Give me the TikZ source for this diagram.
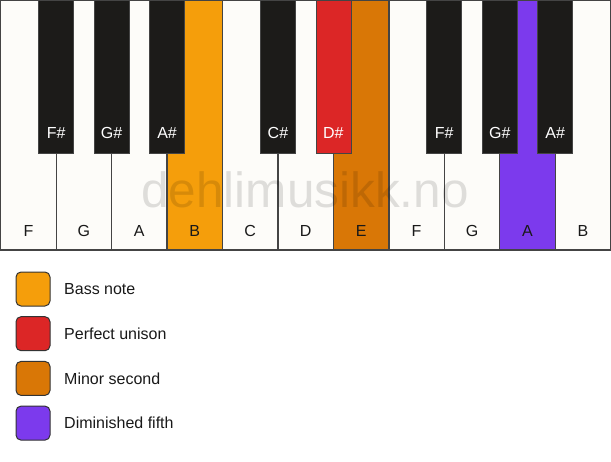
\documentclass[tikz,border=0pt]{standalone}
\usepackage{fontspec}
\setmainfont{Liberation Sans}
\definecolor{keywhite}{HTML}{FDFCF9}
\definecolor{keyblack}{HTML}{1C1B19}
\definecolor{keyedge}{HTML}{444444}
\definecolor{cbass}{HTML}{F59E0B}
\definecolor{cunison}{HTML}{DC2626}
\definecolor{csecond}{HTML}{D97706}
\definecolor{cfifth}{HTML}{7C3AED}
\tikzset{
  whitekey/.style={draw=keyedge, line width=1.3pt, fill=keywhite},
  blackkey/.style={draw=keyedge, line width=0.8pt, fill=keyblack},
  wlabel/.style={font=\fontsize{16}{16}\selectfont, text=black!90, anchor=base},
  blabel/.style={font=\fontsize{16}{16}\selectfont, text=white, anchor=base},
  legbox/.style={draw=black!80, line width=1pt, rounded corners=5pt, minimum width=34pt, minimum height=34pt, inner sep=0pt},
  legtext/.style={font=\fontsize{16}{16}\selectfont, text=black!90, anchor=west, inner sep=0pt},
}
\begin{document}
\begin{tikzpicture}[x=1pt,y=-1pt]
\useasboundingbox (0,0) rectangle (611,461);
\def\kw{55.45}
% white keys
\foreach \i/\n/\c in {0/F/keywhite,1/G/keywhite,2/A/keywhite,3/B/cbass,4/C/keywhite,5/D/keywhite,6/E/csecond,7/F/keywhite,8/G/keywhite,9/A/cfifth,10/B/keywhite}{
  \draw[whitekey, fill=\c] ({0.7+\i*\kw},0.7) rectangle ({0.7+(\i+1)*\kw},250);
  \node[wlabel] (w\i) at ({0.7+(\i+0.5)*\kw},236) {\n};
}
% black keys
\foreach \i/\n/\c in {1/F\#/keyblack,2/G\#/keyblack,3/A\#/keyblack,5/C\#/keyblack,6/D\#/cunison,8/F\#/keyblack,9/G\#/keyblack,10/A\#/keyblack}{
  \draw[blackkey, fill=\c] ({0.7+\i*\kw-17.5},0) rectangle ({0.7+\i*\kw+17.5},153);
  \node[blabel] (b\i) at ({0.7+\i*\kw},138) {\n};
}
% watermark
\node[font=\fontsize{49.5}{50}\selectfont, text=black, opacity=0.12, anchor=base, inner sep=0pt] (wm) at (305,207) {dehlimusikk.no};
% legend
\foreach \k/\c/\t [count=\j from 0] in {a/cbass/Bass note, b/cunison/Perfect unison, c/csecond/Minor second, d/cfifth/Diminished fifth}{
  \node[legbox, fill=\c] (box\k) at (33,{289+\j*44.7}) {};
  \node[legtext] (txt\k) at (64,{289+\j*44.7}) {\t};
}
\end{tikzpicture}
\end{document}
